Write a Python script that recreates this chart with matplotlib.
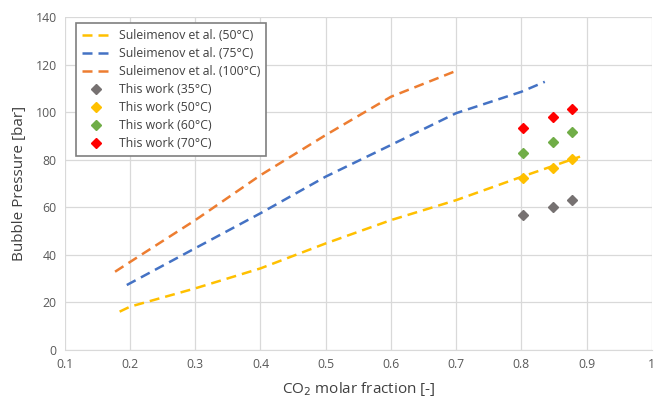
import numpy as np
import matplotlib.pyplot as plt

plt.rcParams['font.family'] = ['Open Sans', 'DejaVu Sans']

# Suleimenov et al. curves
x50 = [0.184, 0.2, 0.3, 0.4, 0.5, 0.6, 0.7, 0.8, 0.89]
p50 = [16.1, 18.2, 25.9, 34.3, 44.8, 54.6, 63.0, 72.8, 81.3]
x75 = [0.195, 0.3, 0.4, 0.5, 0.6, 0.7, 0.8, 0.836]
p75 = [27.3, 42.8, 57.5, 72.9, 86.2, 99.6, 108.6, 112.8]
x100 = [0.177, 0.2, 0.3, 0.4, 0.5, 0.6, 0.7]
p100 = [32.9, 37.0, 54.6, 73.5, 90.4, 106.5, 117.4]

# this work
xw = [0.802, 0.849, 0.877]
p35 = [56.7, 60.2, 63.0]
p50w = [72.2, 76.4, 80.3]
p60 = [82.7, 87.6, 91.8]
p70 = [93.2, 98.1, 101.2]

fig = plt.figure(figsize=(6.55, 3.99), dpi=100)
ax = fig.add_axes([0.099, 0.123, 0.896, 0.834])

dash = (4, 2.4)
ax.plot(x50, p50, color='#FFC000', lw=1.8, dashes=dash, label='Suleimenov et al. (50°C)')
ax.plot(x75, p75, color='#4472C4', lw=1.8, dashes=dash, label='Suleimenov et al. (75°C)')
ax.plot(x100, p100, color='#ED7D31', lw=1.8, dashes=dash, label='Suleimenov et al. (100°C)')
ax.plot(xw, p35, 'D', color='#767171', ms=5.2, ls='none', label='This work (35°C)')
ax.plot(xw, p50w, 'D', color='#FFC000', ms=5.2, ls='none', label='This work (50°C)')
ax.plot(xw, p60, 'D', color='#70AD47', ms=5.2, ls='none', label='This work (60°C)')
ax.plot(xw, p70, 'D', color='#FF0000', ms=5.2, ls='none', label='This work (70°C)')

ax.set_xlim(0.1, 1)
ax.set_ylim(0, 140)
ax.set_xticks(np.arange(0.1, 1.01, 0.1))
ax.set_xticklabels(['0.1', '0.2', '0.3', '0.4', '0.5', '0.6', '0.7', '0.8', '0.9', '1'])
ax.set_yticks(range(0, 141, 20))
ax.grid(True, color='#D9D9D9', lw=0.9)
ax.set_axisbelow(True)
for s in ['top', 'right', 'left']:
    ax.spines[s].set_visible(False)
ax.spines['bottom'].set_color('#D9D9D9')
ax.tick_params(length=0, labelsize=8.8, colors='#595959', pad=6)
ax.set_xlabel('CO$_2$ molar fraction [-]', fontsize=11, color='#404040', labelpad=6)
ax.set_ylabel('Bubble Pressure [bar]', fontsize=11, color='#404040', labelpad=6)

leg = ax.legend(loc='upper left', bbox_to_anchor=(0.019, 0.982), borderaxespad=0,
                fontsize=8.8, fancybox=False, edgecolor='#7F7F7F', framealpha=1,
                handlelength=2.2, labelspacing=0.41, borderpad=0.5)
leg.get_frame().set_linewidth(1.2)
for t in leg.get_texts():
    t.set_color('#404040')

plt.savefig('out.png', dpi=100)
